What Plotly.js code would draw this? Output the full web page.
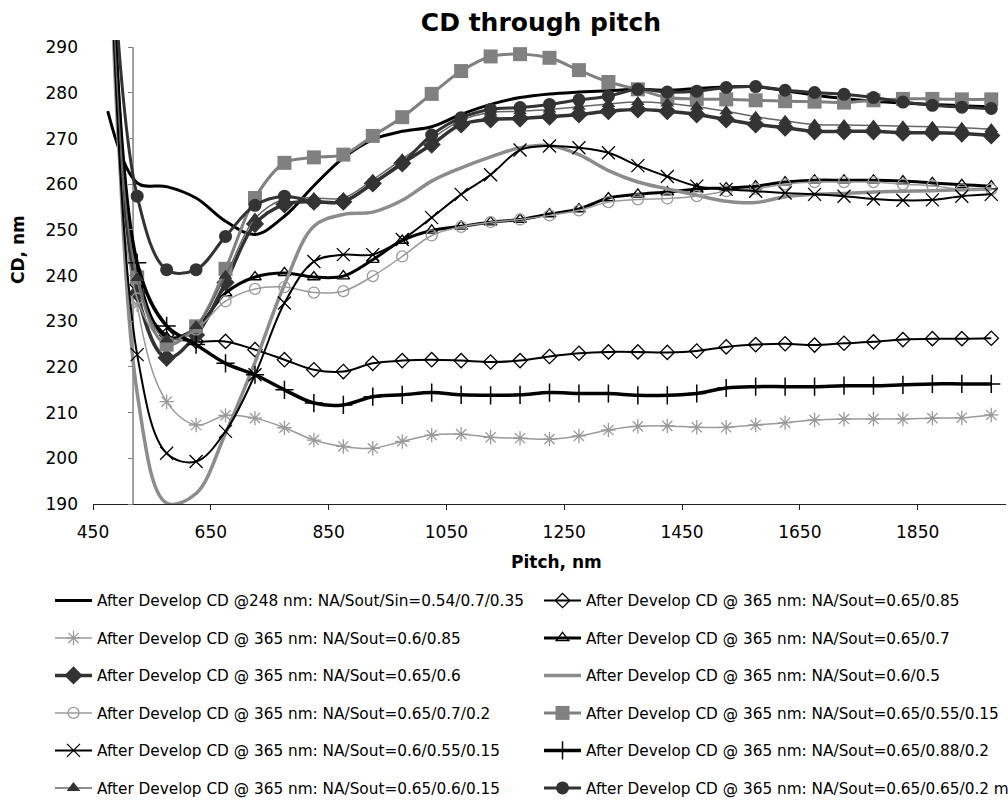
<!DOCTYPE html>
<html>
<head>
<meta charset="utf-8">
<script src="https://cdn.plot.ly/plotly-3.0.1.min.js"></script>
<style>html,body{margin:0;padding:0;background:#fff;}#chart{width:1008px;height:801px;}</style>
</head>
<body>
<div id="chart"></div>
<script>
// Pitch values (nm)
const pitch = [475, 525, 575, 625, 675, 725, 775, 825, 875, 925, 975, 1025, 1075, 1125, 1175, 1225, 1275, 1325, 1375, 1425, 1475, 1525, 1575, 1625, 1675, 1725, 1775, 1825, 1875, 1925, 1975];

// Series names
const names = [
  "After Develop CD @248 nm: NA/Sout/Sin=0.54/0.7/0.35",
  "After Develop CD @ 365 nm: NA/Sout=0.65/0.85",
  "After Develop CD @ 365 nm: NA/Sout=0.6/0.85",
  "After Develop CD @ 365 nm: NA/Sout=0.65/0.7",
  "After Develop CD @ 365 nm: NA/Sout=0.65/0.6",
  "After Develop CD @ 365 nm: NA/Sout=0.6/0.5",
  "After Develop CD @ 365 nm: NA/Sout=0.65/0.7/0.2",
  "After Develop CD @ 365 nm: NA/Sout=0.65/0.55/0.15",
  "After Develop CD @ 365 nm: NA/Sout=0.6/0.55/0.15",
  "After Develop CD @ 365 nm: NA/Sout=0.65/0.88/0.2",
  "After Develop CD @ 365 nm: NA/Sout=0.65/0.6/0.15",
  "After Develop CD @ 365 nm: NA/Sout=0.65/0.65/0.2 m"
];

// CD values (nm), one array per series
const cd248_054_07_035 = [276, 260.3, 259.5, 257, 251.9, 249, 253, 259.7, 265.8, 269.8, 271.6, 272.6, 275.3, 277.5, 279, 279.8, 280.2, 280.5, 280.8, 280.6, 281, 281.3, 281.4, 280.5, 279.5, 278.8, 278.2, 277.8, 277.5, 277.2, 277.0];
const cd365_065_085 = [350, 238, 227, 225.6, 225.6, 223.8, 221.6, 219.4, 219, 220.8, 221.4, 221.6, 221.4, 221.1, 221.4, 222.3, 223, 223.3, 223.3, 223.2, 223.5, 224.4, 224.9, 225.1, 224.8, 225.2, 225.5, 226, 226.2, 226.2, 226.3];
const cd365_06_085 = [340, 233.6, 212.4, 207.3, 209.4, 208.8, 206.7, 204, 202.6, 202.2, 203.7, 205.1, 205.3, 204.6, 204.4, 204.2, 204.9, 206.2, 207, 207.1, 206.8, 206.8, 207.3, 207.8, 208.4, 208.6, 208.6, 208.6, 208.8, 208.9, 209.5];
const cd365_065_07 = [345, 241, 226.5, 228.5, 236.2, 239.7, 240.6, 239.7, 239.9, 243.5, 247.7, 249.9, 250.8, 251.7, 252.3, 253.5, 254.6, 257, 257.8, 258.3, 259, 259.2, 259.6, 260.5, 260.9, 260.9, 260.9, 260.7, 260.3, 259.9, 259.6];
const cd365_065_06 = [335, 236.2, 222, 227, 238.5, 251.3, 255.6, 256.2, 256.2, 260.2, 264.6, 268.7, 273.1, 274.2, 274.4, 274.8, 275.3, 276, 276.4, 276, 275.3, 274.2, 273.1, 272.4, 271.6, 271.6, 271.6, 271.3, 271.3, 271.1, 270.7];
const cd365_06_05 = [360, 214.3, 190.2, 192.3, 205.5, 221, 238, 250.8, 253.4, 253.9, 256.5, 260.7, 263.6, 266, 268, 268.5, 266.5, 263, 260.5, 259, 257.6, 256.3, 256, 257.3, 257.8, 258, 258.3, 258.5, 258.6, 258.8, 259];
const cd365_065_07_02 = [340, 235, 225.5, 228.2, 234.4, 237.1, 237.5, 236.3, 236.6, 239.9, 244.2, 248.8, 250.7, 251.7, 252.3, 253.2, 254.3, 256.1, 256.7, 256.9, 257.4, 258.5, 259, 260, 260.5, 260.5, 260.5, 260, 259.7, 258.9, 258.9];
const cd365_065_055_015 = [355, 239.6, 224.9, 228.9, 241.5, 257, 264.7, 265.9, 266.5, 270.6, 274.7, 279.8, 284.8, 288, 288.5, 287.7, 285, 282.4, 280.8, 279, 278.7, 278.6, 278.4, 278.2, 278.1, 277.9, 278.4, 278.7, 278.7, 278.6, 278.6];
const cd365_06_055_015 = [330, 222.7, 201.1, 199.3, 205.9, 218.3, 234, 243.1, 244.6, 244.6, 247.9, 252.7, 257.8, 262.1, 267.5, 268.4, 268, 266.9, 264.1, 261.7, 259.6, 258.9, 258.5, 258.1, 257.8, 257.4, 256.8, 256.5, 256.6, 257.4, 257.8];
const cd365_065_088_02 = [345, 242.8, 229, 224.9, 220.8, 218.3, 215, 212.1, 211.7, 213.5, 213.9, 214.4, 213.9, 213.8, 213.9, 214.4, 214.2, 214.2, 213.8, 213.8, 214.2, 215.4, 215.7, 215.7, 215.7, 215.9, 215.9, 216.1, 216.3, 216.3, 216.3];
const cd365_065_06_015 = [340, 239.5, 226, 229, 240, 252.5, 256.8, 257, 257, 261, 265.5, 270, 274, 275.7, 276, 276.4, 277, 277.6, 278, 277.7, 277, 276, 274.8, 273.9, 273.1, 273, 272.9, 272.7, 272.6, 272.4, 272.1];
const cd365_065_065_02m = [330, 257.4, 241.3, 241.3, 248.6, 255.4, 257.4, 256.2, 256.3, 260.2, 264.6, 270.8, 274.6, 276.4, 276.8, 277.5, 278.5, 279.3, 280.8, 280.2, 280.4, 281.2, 281.4, 280.6, 280.1, 279.7, 279, 278, 277.3, 276.9, 276.6];

// Axis ticks
const xTicks = [450, 650, 850, 1050, 1250, 1450, 1650, 1850];
const yTicks = [190, 200, 210, 220, 230, 240, 250, 260, 270, 280, 290];
const yAxisCross = 518;

const series = [cd248_054_07_035, cd365_065_085, cd365_06_085, cd365_065_07, cd365_065_06, cd365_06_05,
  cd365_065_07_02, cd365_065_055_015, cd365_06_055_015, cd365_065_088_02, cd365_065_06_015, cd365_065_065_02m];

const BLK = '#000000', DK = '#333333', MG = '#808080', G2 = '#8c8c8c', LG = '#9a9a9a';
const styles = [
  {color: BLK, width: 3, mode: 'lines'},
  {color: BLK, width: 2, symbol: 'diamond-open', size: 11, mlw: 1.3},
  {color: LG, width: 1.5, symbol: 'asterisk-open', size: 12, mlw: 1.3},
  {color: BLK, width: 3, symbol: 'triangle-up-open', size: 11, mlw: 1.3},
  {color: DK, width: 3.5, symbol: 'diamond', size: 14, mlw: 0},
  {color: G2, width: 3.5, mode: 'lines'},
  {color: LG, width: 1.5, symbol: 'circle-open', size: 11, mlw: 1.3},
  {color: MG, width: 3, symbol: 'square', size: 14, mlw: 0},
  {color: BLK, width: 2, symbol: 'x-thin-open', size: 13, mlw: 1.3},
  {color: BLK, width: 3.5, symbol: 'cross-thin-open', size: 13, mlw: 1.5},
  {color: '#666666', width: 1.5, symbol: 'triangle-up', size: 12, mlw: 0, mcolor: DK},
  {color: DK, width: 3, symbol: 'circle', size: 13, mlw: 0}
];

const traces = series.map((s, i) => {
  const st = styles[i];
  const t = {
    x: pitch, y: s, name: names[i], type: 'scatter',
    mode: st.mode || 'lines+markers',
    line: {color: st.color, width: st.width, shape: 'spline', smoothing: 1},
    legend: (i % 2 === 0) ? 'legend' : 'legend2',
    legendgroup: 'g' + i,
    cliponaxis: true,
    hoverinfo: 'x+y+name'
  };
  if (st.symbol) {
    t.marker = {symbol: st.symbol, size: st.size, color: st.mcolor || st.color,
      line: {color: st.mcolor || st.color, width: st.mlw}};
  }
  return t;
});

// helper trace so that the crossing y axis (ticks only) is drawn
traces.push({x: [yAxisCross], y: [yTicks[0]], yaxis: 'y2', type: 'scatter', mode: 'markers',
  marker: {opacity: 0}, showlegend: false, hoverinfo: 'skip'});

const FONT = 'DejaVu Sans, Arial, sans-serif';
const legendCommon = {
  orientation: 'v', xref: 'container', yref: 'container', xanchor: 'left', yanchor: 'top',
  font: {family: FONT, size: 15.3, color: '#000'}, bgcolor: 'rgba(0,0,0,0)',
  tracegroupgap: 14.6, itemwidth: 37, traceorder: 'grouped'
};

const layout = {
  width: 1008, height: 801,
  paper_bgcolor: '#ffffff', plot_bgcolor: '#ffffff',
  margin: {l: 93, r: 2, t: 40, b: 297, autoexpand: false},
  font: {family: FONT, size: 17, color: '#000'},
  title: {text: 'CD through pitch', x: 541/1008, xanchor: 'center', y: 1 - 22/801, yanchor: 'middle',
    font: {family: FONT, size: 25, weight: 'bold', color: '#000'}},
  xaxis: {range: [450, 2000], tickmode: 'array', tickvals: xTicks, ticks: 'outside', ticklen: 5,
    tickcolor: '#222', showline: true, linecolor: '#222', linewidth: 1, showgrid: false, zeroline: false,
    ticklabelstandoff: 8, tickfont: {family: FONT, size: 17, color: '#000'}},
  yaxis: {range: [190, 291.6], tickmode: 'array', tickvals: yTicks, ticks: '', showline: false,
    showgrid: false, zeroline: false, ticklabelstandoff: 14, tickfont: {family: FONT, size: 17, color: '#000'}},
  yaxis2: {range: [190, 291.6], overlaying: 'y', anchor: 'free', side: 'left',
    position: (yAxisCross - 450) / 1550, tickmode: 'array', tickvals: yTicks, ticks: 'outside', ticklen: 5,
    tickcolor: '#808080', showticklabels: false, showline: false, showgrid: false, zeroline: false},
  shapes: [{type: 'line', xref: 'x', yref: 'y', x0: yAxisCross, x1: yAxisCross, y0: yTicks[0], y1: yTicks[yTicks.length - 1],
    line: {color: '#808080', width: 1.5}, layer: 'below'}],
  annotations: [
    {text: 'Pitch, nm', xref: 'paper', yref: 'paper', x: (556 - 93) / 913, y: (504 - 562) / 464,
      xanchor: 'center', yanchor: 'middle', showarrow: false, font: {family: FONT, size: 17, weight: 'bold', color: '#000'}},
    {text: 'CD, nm', xref: 'paper', yref: 'paper', x: (18 - 93) / 913, y: (504 - 250) / 464, textangle: -90,
      xanchor: 'center', yanchor: 'middle', showarrow: false, font: {family: FONT, size: 17, weight: 'bold', color: '#000'}}
  ],
  legend: Object.assign({}, legendCommon, {x: 50/1008, y: 1 - 584/801}),
  legend2: Object.assign({}, legendCommon, {x: 539/1008, y: 1 - 584/801}),
  showlegend: true
};

Plotly.newPlot('chart', traces, layout, {displayModeBar: false, staticPlot: true});
</script>
</body>
</html>
